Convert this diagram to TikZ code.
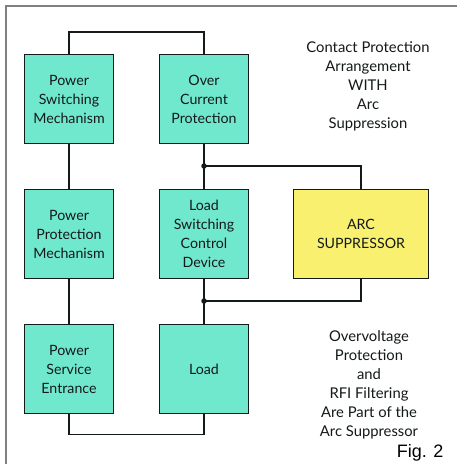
\documentclass[tikz,border=0pt]{standalone}
\usepackage{fontspec}
\setmainfont{Lato}
\newfontfamily\figfont{Liberation Sans}
\definecolor{teal1}{RGB}{112,232,206}
\definecolor{yel1}{RGB}{250,240,112}
\definecolor{frame1}{RGB}{128,128,128}
\definecolor{ink}{RGB}{20,25,25}
\begin{document}
\begin{tikzpicture}[x=1pt,y=-1pt,
  blk/.style={draw=ink,line width=1.6pt,fill=teal1,minimum width=89pt,minimum height=89pt,
    align=center,font=\fontsize{14.2}{19}\selectfont,text=ink,inner sep=0pt},
  arcblk/.style={blk,fill=yel1,minimum width=135pt},
  wire/.style={draw=ink,line width=1.6pt},
  note/.style={align=center,font=\fontsize{14.8}{19}\selectfont,text=ink},
  dot/.style={circle,fill=ink,inner sep=0pt,minimum size=5.5pt}]
\useasboundingbox (0,0) rectangle (457,464);
\fill[white] (0,0) rectangle (457,464);
\draw[frame1,line width=2pt] (6,464) -- (6,6) -- (457,6);
% boxes
\node[blk] (psm) at (69,99) {Power\\Switching\\Mechanism};
\node[blk] (ocp) at (204,99) {Over\\Current\\Protection};
\node[blk] (ppm) at (69,234) {Power\\Protection\\Mechanism};
\node[blk] (lsc) at (204,234) {Load\\Switching\\Control\\Device};
\node[blk] (pse) at (69,369) {Power\\Service\\Entrance};
\node[blk] (load) at (204,369) {Load};
\node[arcblk] (arc) at (361,234) {ARC\\SUPPRESSOR};
% junctions
\coordinate (j1) at (204,166);
\coordinate (j2) at (204,301);
% wires
\draw[wire] (psm.north) -- ++(0,-22) -| (ocp.north);
\draw[wire] (psm.south) -- (ppm.north);
\draw[wire] (ppm.south) -- (pse.north);
\draw[wire] (pse.south) -- ++(0,20) -| (load.south);
\draw[wire] (ocp.south) -- (j1) -- (lsc.north);
\draw[wire] (lsc.south) -- (j2) -- (load.north);
\draw[wire] (j1) -| (arc.north);
\draw[wire] (j2) -| (arc.south);
\node[dot] at (j1) {};
\node[dot] at (j2) {};
% notes
\node[note] (t1) at (368,86) {Contact Protection\\Arrangement\\WITH\\Arc\\Suppression};
\node[note] (t2) at (369,385) {Overvoltage\\Protection\\and\\RFI Filtering\\Are Part of the\\Arc Suppressor};
\node[font=\figfont\fontsize{18}{20}\selectfont,text=black,anchor=base east] (fig) at (447,457) {Fig. 2};
\end{tikzpicture}
\end{document}
